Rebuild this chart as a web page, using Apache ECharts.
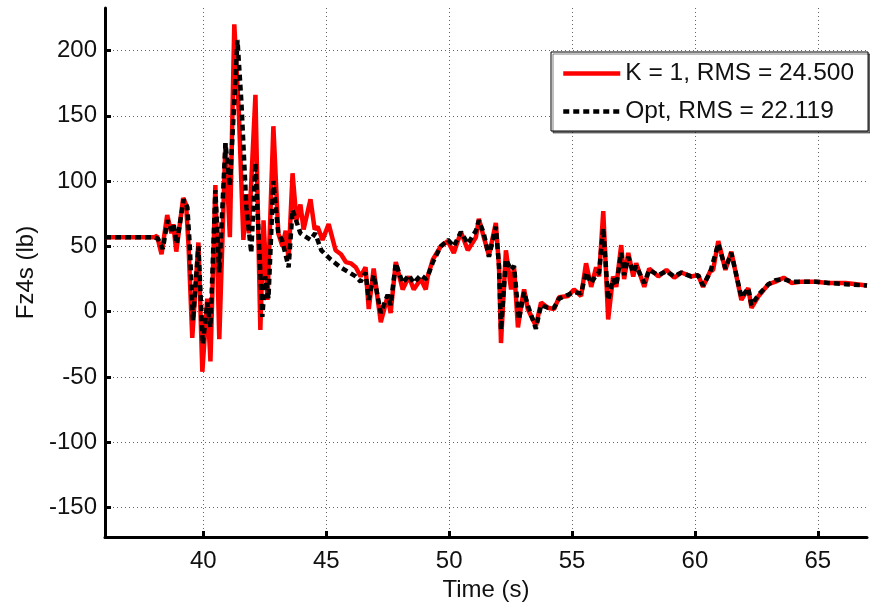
<!DOCTYPE html>
<html>
<head>
<meta charset="utf-8">
<script src="https://cdn.jsdelivr.net/npm/echarts@6/dist/echarts.min.js"></script>
<style>html,body{margin:0;padding:0;background:#fff;}#c{width:870px;height:603px;}</style>
</head>
<body>
<div id="c"></div>
<script>
// ---- data ----
const xTicks = [40, 45, 50, 55, 60, 65];
const yTicks = [-150, -100, -50, 0, 50, 100, 150, 200];

const timeK = [36.00, 38.00, 38.12, 38.30, 38.53, 38.70, 38.78, 38.90, 39.18, 39.30, 39.40, 39.55, 39.80, 39.96, 40.16, 40.29, 40.49, 40.65, 40.90, 41.08, 41.26, 41.45, 41.63, 41.75, 41.85, 42.12, 42.32, 42.45, 42.61, 42.85, 43.05, 43.22, 43.35, 43.47, 43.63, 43.79, 43.95, 44.08, 44.36, 44.53, 44.65, 44.85, 45.10, 45.38, 45.60, 45.80, 46.00, 46.20, 46.40, 46.60, 46.73, 46.93, 47.22, 47.50, 47.62, 47.83, 48.11, 48.36, 48.56, 48.85, 49.05, 49.13, 49.34, 49.66, 49.95, 50.19, 50.48, 50.76, 51.09, 51.21, 51.41, 51.62, 51.90, 52.03, 52.11, 52.31, 52.52, 52.64, 52.80, 52.95, 53.05, 53.20, 53.53, 53.74, 54.02, 54.27, 54.47, 54.84, 55.08, 55.37, 55.57, 55.78, 55.98, 56.10, 56.27, 56.47, 56.67, 56.80, 57.00, 57.12, 57.29, 57.49, 57.61, 57.94, 58.14, 58.51, 58.84, 59.16, 59.45, 59.84, 60.13, 60.33, 60.62, 60.74, 60.95, 61.24, 61.48, 61.89, 62.17, 62.30, 62.59, 62.99, 63.28, 63.61, 63.93, 64.34, 64.91, 65.44, 66.13, 67.00];
const valK  = [57, 57, 58, 44, 74, 60, 67, 46, 87, 82, 50, -20, 53, -46, 10, -38, 97, -21, 129, 57, 220, 150, 55, 90, 60, 166, -14, 70, 9, 142, 60, 50, 62, 40, 106, 70, 82, 63, 86, 63, 65, 55, 67, 47, 44, 38, 37, 34, 27, 34, 2, 33, -8, 12, -1, 38, 17, 27, 17, 25, 17, 27, 40, 50, 54, 45, 61, 47, 57, 71, 57, 43, 68, 34, -24, 47, 17, 34, -12, 7, 17, 2, -11, 7, 3, 2, 11, 12, 17, 12, 37, 19, 34, 27, 77, -6, 27, 19, 51, 25, 45, 27, 37, 19, 33, 27, 32, 26, 30, 27, 28, 19, 31, 32, 54, 32, 46, 9, 18, 3, 12, 21, 23, 26, 22, 23, 23, 22, 22, 20];

const timeOpt = [36.00, 38.00, 38.15, 38.35, 38.55, 38.72, 38.80, 38.92, 39.20, 39.35, 39.45, 39.58, 39.80, 39.98, 40.16, 40.29, 40.49, 40.65, 40.90, 41.08, 41.39, 41.55, 41.75, 41.95, 42.12, 42.40, 42.52, 42.65, 42.85, 43.05, 43.20, 43.47, 43.63, 43.95, 44.36, 44.55, 44.80, 45.18, 45.58, 46.20, 46.40, 46.60, 46.73, 46.93, 47.22, 47.50, 47.62, 47.83, 48.11, 48.36, 48.56, 48.85, 49.05, 49.13, 49.34, 49.66, 49.95, 50.19, 50.48, 50.76, 51.09, 51.21, 51.41, 51.62, 51.90, 52.03, 52.11, 52.31, 52.52, 52.64, 52.84, 53.05, 53.20, 53.53, 53.74, 54.02, 54.27, 54.47, 54.84, 55.08, 55.37, 55.57, 55.78, 55.98, 56.10, 56.27, 56.47, 56.67, 56.80, 57.00, 57.12, 57.29, 57.49, 57.61, 57.94, 58.14, 58.51, 58.84, 59.16, 59.45, 59.84, 60.13, 60.33, 60.62, 60.95, 61.24, 61.48, 61.89, 62.17, 62.30, 62.59, 62.99, 63.28, 63.61, 63.93, 64.34, 64.91, 65.44, 66.13, 67.00];
const valOpt  = [57, 57, 56, 48, 70, 62, 66, 52, 86, 80, 50, -7, 50, -25, 7, -12, 93, 30, 129, 96, 208, 160, 80, 45, 114, -4, 27, 10, 100, 60, 55, 34, 78, 60, 55, 60, 47, 40, 34, 27, 23, 30, 9, 28, -1, 13, 5, 37, 22, 28, 22, 28, 25, 27, 38, 50, 55, 50, 61, 52, 62, 70, 60, 42, 65, 35, -14, 40, 32, 35, -6, 15, 5, -13, 5, 3, 3, 10, 13, 15, 14, 30, 22, 28, 30, 64, 9, 25, 20, 45, 28, 42, 30, 35, 22, 32, 28, 31, 27, 30, 27, 28, 20, 30, 52, 33, 45, 11, 18, 5, 13, 21, 24, 25, 23, 23, 23, 22, 21, 20];

const seriesNames = ['K = 1, RMS = 24.500', 'Opt, RMS = 22.119'];
const xName = 'Time (s)';
const yName = 'Fz4s (lb)';

// ---- chart ----
const FONT = '"Liberation Sans", Arial, Helvetica, sans-serif';
const pairs = (t, v) => t.map((x, i) => [x, v[i]]);
const chart = echarts.init(document.getElementById('c'), null, {renderer: 'canvas'});
const gridLine = {show: true, lineStyle: {color: '#666', width: 1, type: [1, 3]}};
chart.setOption({
  animation: false,
  backgroundColor: '#fff',
  grid: {left: 105, right: 3, top: 8, bottom: 66, outerBoundsMode: 'none', containLabel: false},
  xAxis: {
    type: 'value', min: 36, max: 67,
    name: xName, nameLocation: 'middle', nameGap: 40,
    nameTextStyle: {fontFamily: FONT, fontSize: 24, color: '#111'},
    axisLine: {onZero: false, lineStyle: {color: '#000', width: 3}},
    axisTick: {inside: true, length: 6, lineStyle: {width: 3, color: '#000'}, customValues: xTicks},
    axisLabel: {fontFamily: FONT, fontSize: 24, color: '#111', margin: 12, customValues: xTicks},
    splitLine: gridLine
  },
  yAxis: {
    type: 'value', min: -172.5, max: 232.5,
    name: yName, nameLocation: 'middle', nameGap: 64, nameRotate: 90,
    nameTextStyle: {fontFamily: FONT, fontSize: 24, color: '#111'},
    axisLine: {show: true, onZero: false, lineStyle: {color: '#000', width: 3}},
    axisTick: {show: true, inside: true, length: 6, lineStyle: {width: 3, color: '#000'}, customValues: yTicks},
    axisLabel: {fontFamily: FONT, fontSize: 24, color: '#111', margin: 8, customValues: yTicks},
    splitLine: gridLine
  },
  legend: {
    orient: 'vertical', left: 551, top: 52,
    padding: [9, 14, 7, 10], itemGap: 13, itemWidth: 57, itemHeight: 20,
    backgroundColor: '#fff', borderColor: '#000', borderWidth: 1,
    shadowColor: 'rgba(0,0,0,0.5)', shadowOffsetX: 2, shadowOffsetY: 2, shadowBlur: 0,
    itemStyle: {opacity: 0},
    lineStyle: {width: 4.5},
    textStyle: {fontFamily: FONT, fontSize: 24.5, color: '#111'},
    data: seriesNames
  },
  series: [
    {name: seriesNames[0], type: 'line', data: pairs(timeK, valK), symbol: 'none', showSymbol: false,
     lineStyle: {color: '#ff0000', width: 4.5}, itemStyle: {color: '#ff0000'}, z: 2},
    {name: seriesNames[1], type: 'line', data: pairs(timeOpt, valOpt), symbol: 'none', showSymbol: false,
     lineStyle: {color: '#000', width: 4.5, type: [6, 4]}, itemStyle: {color: '#000'}, z: 3}
  ]
});
</script>
</body>
</html>
